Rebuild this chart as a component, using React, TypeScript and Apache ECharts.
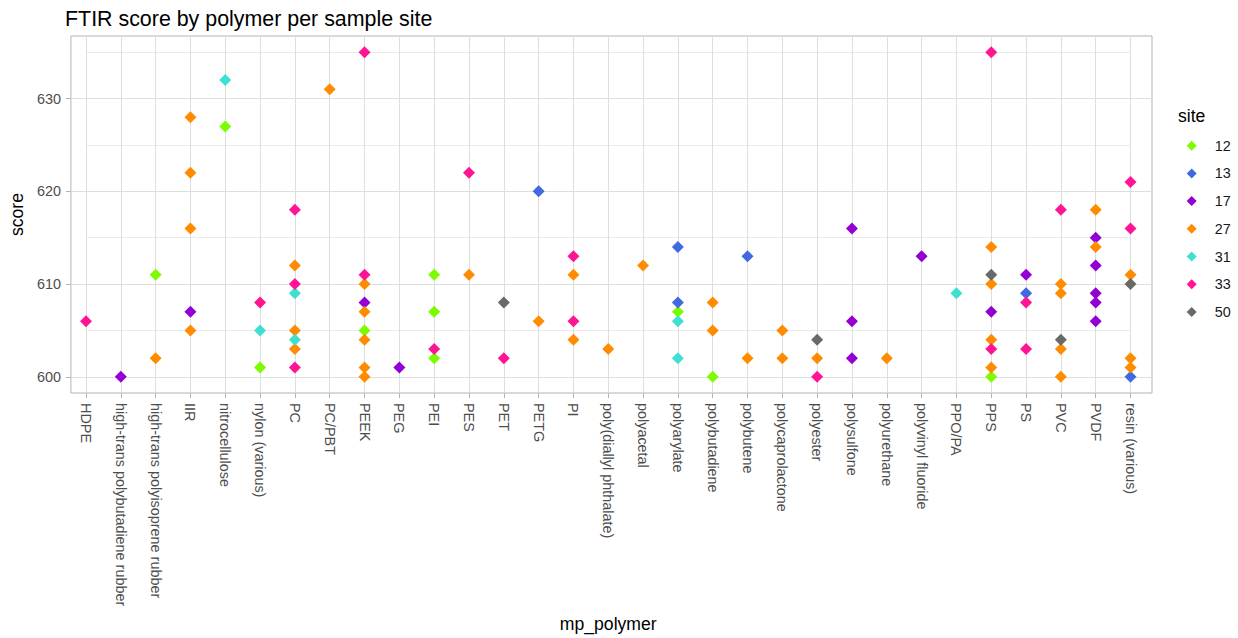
import React, { useEffect, useRef } from "react";
import * as echarts from "echarts";

const categories = [
  "HDPE",
  "high-trans polybutadiene rubber",
  "high-trans polyisoprene rubber",
  "IIR",
  "nitrocellulose",
  "nylon (various)",
  "PC",
  "PC/PBT",
  "PEEK",
  "PEG",
  "PEI",
  "PES",
  "PET",
  "PETG",
  "PI",
  "poly(diallyl phthalate)",
  "polyacetal",
  "polyarylate",
  "polybutadiene",
  "polybutene",
  "polycaprolactone",
  "polyester",
  "polysulfone",
  "polyurethane",
  "polyvinyl fluoride",
  "PPO/PA",
  "PPS",
  "PS",
  "PVC",
  "PVDF",
  "resin (various)",
];

const sites = ["12", "13", "17", "27", "31", "33", "50"];
const siteColors = ["#7CFC00", "#4169E1", "#9400D3", "#FF8C00", "#40E0D0", "#FF1493", "#696969"];

const site12: [string, number][] = [
  ["high-trans polyisoprene rubber", 611],
  ["nitrocellulose", 627],
  ["nylon (various)", 601],
  ["PEEK", 605],
  ["PEI", 611],
  ["PEI", 607],
  ["PEI", 602],
  ["polyarylate", 607],
  ["polybutadiene", 600],
  ["PPS", 600],
];

const site13: [string, number][] = [
  ["PETG", 620],
  ["polyarylate", 614],
  ["polyarylate", 608],
  ["polybutene", 613],
  ["PS", 609],
  ["resin (various)", 600],
];

const site17: [string, number][] = [
  ["high-trans polybutadiene rubber", 600],
  ["IIR", 607],
  ["PEEK", 608],
  ["PEG", 601],
  ["polysulfone", 616],
  ["polysulfone", 606],
  ["polysulfone", 602],
  ["polyvinyl fluoride", 613],
  ["PPS", 607],
  ["PS", 611],
  ["PVDF", 615],
  ["PVDF", 612],
  ["PVDF", 609],
  ["PVDF", 608],
  ["PVDF", 606],
];

const site27: [string, number][] = [
  ["high-trans polyisoprene rubber", 602],
  ["IIR", 628],
  ["IIR", 622],
  ["IIR", 616],
  ["IIR", 605],
  ["PC", 612],
  ["PC", 605],
  ["PC", 603],
  ["PC/PBT", 631],
  ["PEEK", 610],
  ["PEEK", 607],
  ["PEEK", 604],
  ["PEEK", 601],
  ["PEEK", 600],
  ["PES", 611],
  ["PETG", 606],
  ["PI", 611],
  ["PI", 604],
  ["poly(diallyl phthalate)", 603],
  ["polyacetal", 612],
  ["polybutadiene", 608],
  ["polybutadiene", 605],
  ["polybutene", 602],
  ["polycaprolactone", 605],
  ["polycaprolactone", 602],
  ["polyester", 602],
  ["polyurethane", 602],
  ["PPS", 614],
  ["PPS", 610],
  ["PPS", 604],
  ["PPS", 601],
  ["PVC", 610],
  ["PVC", 609],
  ["PVC", 603],
  ["PVC", 600],
  ["PVDF", 618],
  ["PVDF", 614],
  ["resin (various)", 611],
  ["resin (various)", 602],
  ["resin (various)", 601],
];

const site31: [string, number][] = [
  ["nitrocellulose", 632],
  ["nylon (various)", 605],
  ["PC", 609],
  ["PC", 604],
  ["polyarylate", 606],
  ["polyarylate", 602],
  ["PPO/PA", 609],
];

const site33: [string, number][] = [
  ["HDPE", 606],
  ["nylon (various)", 608],
  ["PC", 618],
  ["PC", 610],
  ["PC", 601],
  ["PEEK", 635],
  ["PEEK", 611],
  ["PEI", 603],
  ["PES", 622],
  ["PET", 602],
  ["PI", 613],
  ["PI", 606],
  ["polyester", 600],
  ["PPS", 635],
  ["PPS", 603],
  ["PS", 608],
  ["PS", 603],
  ["PVC", 618],
  ["resin (various)", 621],
  ["resin (various)", 616],
];

const site50: [string, number][] = [
  ["PET", 608],
  ["polyester", 604],
  ["PPS", 611],
  ["PVC", 604],
  ["resin (various)", 610],
];

const siteData = [site12, site13, site17, site27, site31, site33, site50];

const yMin = 598.25;
const yMax = 636.75;
const yTicks = [600, 610, 620, 630];
const yMinorBreaks = [605, 615, 625, 635];

const FONT = "'Liberation Sans', Arial, sans-serif";

export default function App() {
  const ref = useRef<HTMLDivElement>(null);

  useEffect(() => {
    document.body.style.margin = "0";
    const chart = echarts.init(ref.current!, null, { renderer: "svg" });

    const option: any = {
      animation: false,
      backgroundColor: "#ffffff",
      textStyle: { fontFamily: FONT },
      title: {
        text: "FTIR score by polymer per sample site",
        left: 60,
        top: 3,
        textStyle: { fontSize: 21.4, fontWeight: "normal", color: "#000000", fontFamily: FONT },
      },
      grid: [
        {
          left: 65,
          right: 86,
          top: 36,
          bottom: 245,
          show: true,
          borderColor: "#B3B3B3",
          borderWidth: 1,
          backgroundColor: "transparent",
        },
        { left: 86, right: 107.5, top: 36, bottom: 245 },
      ],
      xAxis: [
        { gridIndex: 0, type: "value", min: 0, max: 1, show: false },
        {
          gridIndex: 1,
          type: "category",
          data: categories,
          boundaryGap: false,
          axisLine: { show: false },
          axisTick: { show: true, interval: 0, length: 5, lineStyle: { color: "#B3B3B3" } },
          axisLabel: {
            interval: 0,
            rotate: -90,
            color: "#4D4D4D",
            fontSize: 14.4,
            margin: 10,
            fontFamily: FONT,
          },
          splitLine: { show: true, interval: 0, lineStyle: { color: "#DEDEDE", width: 1 } },
          name: "mp_polymer",
          nameLocation: "middle",
          nameGap: 222,
          nameTextStyle: { fontSize: 17.6, color: "#000000", fontFamily: FONT },
        },
      ],
      yAxis: [
        {
          gridIndex: 0,
          type: "value",
          min: yMin,
          max: yMax,
          minInterval: 10,
          maxInterval: 10,
          axisLine: { show: false },
          axisTick: { show: true, length: 5, customValues: yTicks, lineStyle: { color: "#B3B3B3" } },
          axisLabel: {
            customValues: yTicks,
            color: "#4D4D4D",
            fontSize: 14.4,
            margin: 10,
            fontFamily: FONT,
            formatter: (v: number) => (v % 10 === 0 ? String(v) : ""),
          },
          splitLine: { show: true, lineStyle: { color: "#DEDEDE", width: 1 } },
          name: "score",
          nameLocation: "middle",
          nameGap: 40,
          nameTextStyle: { fontSize: 17.6, color: "#000000", fontFamily: FONT },
        },
        {
          gridIndex: 1,
          type: "value",
          min: yMin,
          max: yMax,
          axisLine: { show: false },
          axisTick: { show: false, customValues: yMinorBreaks },
          axisLabel: { show: false, customValues: yMinorBreaks },
          splitLine: { show: true, lineStyle: { color: "#EBEBEB", width: 1 } },
        },
      ],
      legend: {
        data: sites,
        orient: "vertical",
        left: 1181.7,
        top: 133.7,
        icon: "diamond",
        itemWidth: 10,
        itemHeight: 10,
        itemGap: 13.7,
        textStyle: {
          fontSize: 14.4,
          color: "#1A1A1A",
          fontFamily: FONT,
          lineHeight: 14,
          padding: [0, 0, 0, 13],
        },
      },
      graphic: [
        {
          type: "text",
          left: 1178,
          top: 107,
          style: { text: "site", fontSize: 17.6, fill: "#000000", fontFamily: FONT },
        },
      ],
      series: sites.map((s, i) => ({
        name: s,
        type: "scatter",
        xAxisIndex: 1,
        yAxisIndex: 1,
        symbol: "diamond",
        symbolSize: 12,
        itemStyle: { color: siteColors[i], opacity: 1 },
        data: siteData[i],
      })),
    };

    chart.setOption(option);
    return () => chart.dispose();
  }, []);

  return <div ref={ref} style={{ width: 1238, height: 638 }} />;
}
